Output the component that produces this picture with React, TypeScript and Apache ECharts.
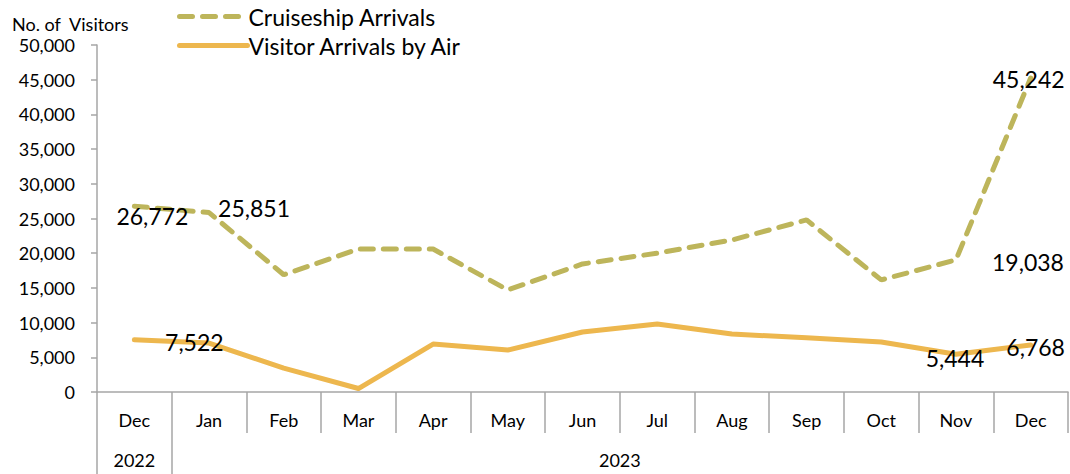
import React, { useEffect, useRef } from "react";
import * as echarts from "echarts";

const months = ["Dec", "Jan", "Feb", "Mar", "Apr", "May", "Jun", "Jul", "Aug", "Sep", "Oct", "Nov", "Dec"];
const years = ["2022", "2023"];
const cruiseArrivals = [26772, 25851, 16900, 20600, 20600, 14700, 18450, 20000, 21900, 24800, 16150, 19038, 45242];
const airArrivals = [7522, 7050, 3450, 500, 6900, 6050, 8650, 9800, 8350, 7800, 7200, 5444, 6768];
const yTicks = { min: 0, max: 50000, interval: 5000 };

const FONT = "Lato, 'Open Sans', sans-serif";

// label placement (styling only): index -> [dx, dy]
const cruiseLabelOffsets: Record<number, [number, number]> = {
  0: [18, 10],
  1: [45, -5],
  11: [72, 2],
  12: [-2, 1],
};
const airLabelOffsets: Record<number, [number, number]> = {
  0: [60, 2],
  11: [-1, 4],
  12: [5, 2],
};

function withLabels(values: number[], offsets: Record<number, [number, number]>) {
  return values.map((v, i) => {
    const off = offsets[i];
    return {
      value: v,
      label: off
        ? {
            show: true,
            position: "inside",
            offset: off,
            color: "#000",
            fontSize: 23,
            fontFamily: FONT,
            formatter: (p: any) => Number(p.value).toLocaleString("en-US"),
          }
        : { show: false },
    };
  });
}

export default function App() {
  const ref = useRef<HTMLDivElement>(null);
  useEffect(() => {
    if (!ref.current) return;
    const chart = echarts.init(ref.current, null, { renderer: "svg" });
    const axisColor = "#A6A6A6";
    chart.setOption({
      animation: false,
      backgroundColor: "#fff",
      title: {
        text: "No. of  Visitors",
        left: 7,
        top: 10,
        textStyle: { fontSize: 18, fontWeight: "normal", color: "#000", fontFamily: FONT },
      },
      legend: {
        orient: "vertical",
        left: 172,
        top: 0,
        itemWidth: 68,
        itemHeight: 12,
        itemGap: 6,
        itemStyle: { opacity: 0 },
        lineStyle: { width: 5, cap: "round" },
        textStyle: { fontSize: 23, color: "#000", fontFamily: FONT, padding: [0, 0, 0, -4] },
        data: ["Cruiseship Arrivals", "Visitor Arrivals by Air"],
      },
      grid: { left: 97, right: 2, top: 45, bottom: 82, containLabel: false },
      xAxis: [
        {
          type: "category",
          data: months,
          boundaryGap: true,
          axisLine: { show: true, lineStyle: { color: axisColor, width: 1.5 } },
          axisTick: { show: true, interval: 0, length: 41, lineStyle: { color: axisColor, width: 1.5 } },
          axisLabel: { interval: 0, margin: 19, fontSize: 18, color: "#000", fontFamily: FONT },
          splitLine: { show: false },
        },
        {
          type: "value",
          position: "bottom",
          offset: 41,
          min: 0,
          max: months.length,
          axisLine: { show: false },
          axisTick: {
            show: true,
            customValues: [0, 1],
            length: 41,
            lineStyle: { color: axisColor, width: 1.5 },
          },
          axisLabel: {
            show: true,
            customValues: [0.5, 7],
            margin: 18,
            fontSize: 18,
            color: "#000",
            fontFamily: FONT,
            formatter: (v: number) => (v < 1 ? years[0] : years[1]),
          },
          splitLine: { show: false },
        },
      ],
      yAxis: {
        type: "value",
        min: yTicks.min,
        max: yTicks.max,
        interval: yTicks.interval,
        axisLine: { show: true, lineStyle: { color: axisColor, width: 1.5 } },
        axisTick: { show: true, length: 6, lineStyle: { color: axisColor, width: 1.5 } },
        axisLabel: {
          margin: 22,
          fontSize: 18,
          color: "#000",
          fontFamily: FONT,
          formatter: (v: number) => v.toLocaleString("en-US"),
        },
        splitLine: { show: false },
      },
      series: [
        {
          name: "Cruiseship Arrivals",
          type: "line",
          xAxisIndex: 0,
          data: withLabels(cruiseArrivals, cruiseLabelOffsets),
          symbol: "circle",
          symbolSize: 0.1,
          itemStyle: { color: "#BDB55B" },
          lineStyle: { color: "#BDB55B", width: 5, type: [13, 10], cap: "round" },
          z: 3,
        },
        {
          name: "Visitor Arrivals by Air",
          type: "line",
          xAxisIndex: 0,
          data: withLabels(airArrivals, airLabelOffsets),
          symbol: "circle",
          symbolSize: 0.1,
          itemStyle: { color: "#EDB74E" },
          lineStyle: { color: "#EDB74E", width: 5, cap: "round", join: "round" },
          z: 2,
        },
      ],
    });
    return () => chart.dispose();
  }, []);
  return <div ref={ref} style={{ width: 1070, height: 474, position: "absolute", left: 0, top: 0 }} />;
}
